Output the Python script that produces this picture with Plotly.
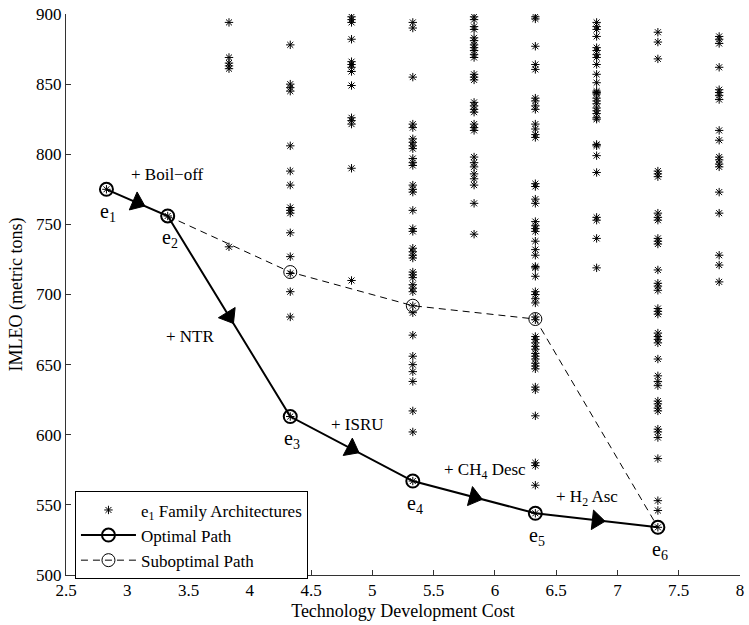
import plotly.graph_objects as go

FONT = "Liberation Serif, Times New Roman, serif"

# ---- data -------------------------------------------------------------
path_cost = [2.83, 3.33, 4.33, 5.33, 6.33, 7.33]
path_imleo = [775, 756, 613, 567, 544, 534]
path_labels = ["e<sub>1</sub>", "e<sub>2</sub>", "e<sub>3</sub>",
               "e<sub>4</sub>", "e<sub>5</sub>", "e<sub>6</sub>"]

sub_cost = [3.33, 4.33, 5.33, 6.33, 7.33]
sub_imleo = [756, 716, 692, 682.5, 534]

step_labels = ["+ Boil\u2212off", "+ NTR", "+ ISRU",
               "+ CH<sub>4</sub> Desc", "+ H<sub>2</sub> Asc"]
step_label_cost = [3.325, 3.51, 4.875, 5.92, 6.75]
step_label_imleo = [785.5, 670, 607.5, 574.5, 555]

family_cost = [2.83, 3.33, 3.83, 4.33, 4.83, 5.33, 5.83, 6.33, 6.83, 7.33, 7.83]
fam_283 = [775]
fam_333 = [756]
fam_383 = [894, 869, 865, 863, 861, 734]
fam_433 = [878, 850, 847.5, 845, 806, 788, 778, 762, 760, 758, 744, 727, 715,
           702, 684, 613]
fam_483 = [898, 896, 894, 882, 866, 864, 862, 859, 849, 826, 824, 821.5, 790,
           710]
fam_533 = [894, 890, 855, 821.5, 819, 811, 808.5, 806, 804, 797, 794, 792, 778,
           775, 773, 760, 747, 745, 733, 730.5, 728, 726, 716, 714, 712, 707,
           704.5, 702, 692, 687, 671, 656, 650, 645, 638, 617, 602, 567]
fam_583 = [898, 896, 891, 889, 883, 881, 878, 876, 874, 871, 869, 857, 855,
           853, 837, 834.5, 832, 830, 821.5, 819, 817, 798, 794, 791, 786,
           782.5, 778, 765, 743]
fam_633 = [898, 896.5, 877, 864, 860.5, 840, 838, 834.5, 832, 821.5, 818, 814,
           812, 779, 777, 768, 765, 752, 749, 747, 745, 738, 732, 728, 720,
           719, 713, 702, 700, 697, 694, 684, 682, 670, 668, 665.5, 663, 661,
           658, 656, 654, 651, 649, 647, 634, 632, 613.5, 580, 578, 564, 544]
fam_683 = [894, 891, 889, 884, 876, 874, 871, 869, 864, 857, 851, 845, 844,
           843, 840, 838, 836, 833, 831, 829, 826, 825, 807, 806, 799, 787,
           755, 753, 740, 719]
fam_733 = [887, 880, 868, 788, 786, 784, 758, 755, 753, 740, 738, 736, 717.5,
           708, 706, 703, 690, 688, 686, 672.5, 670, 668, 665.5, 654, 642, 638,
           635, 624, 622, 619, 617, 604, 602, 598, 583, 553, 546, 534]
fam_783 = [884, 882, 879, 862, 846, 844, 842, 839, 817, 810, 798, 796, 793,
           791, 773, 758, 728, 721, 709]
family_imleo = [fam_283, fam_333, fam_383, fam_433, fam_483, fam_533, fam_583,
                fam_633, fam_683, fam_733, fam_783]

x_ticks = [2.5, 3, 3.5, 4, 4.5, 5, 5.5, 6, 6.5, 7, 7.5, 8]
y_ticks = [500, 550, 600, 650, 700, 750, 800, 850, 900]

# ---- build ------------------------------------------------------------
fam_x, fam_y = [], []
for c, vals in zip(family_cost, family_imleo):
    fam_x += [c] * len(vals)
    fam_y += vals

fig = go.Figure()

fig.add_trace(go.Scatter(
    x=fam_x, y=fam_y, mode="markers",
    name="e<sub>1</sub> Family Architectures",
    marker=dict(symbol="asterisk-open", size=7, color="black",
                line=dict(width=1, color="black")),
))

fig.add_trace(go.Scatter(
    x=path_cost, y=path_imleo, mode="lines+markers", name="Optimal Path",
    line=dict(color="black", width=2),
    marker=dict(symbol="circle-open", size=13, color="black",
                line=dict(width=2, color="black")),
))

fig.add_trace(go.Scatter(
    x=sub_cost, y=sub_imleo, mode="lines+markers", name="Suboptimal Path",
    line=dict(color="black", width=1, dash="7px,5px"),
    marker=dict(symbol="circle-open", size=13, color="black",
                line=dict(width=1, color="black")),
))

# arrow heads at segment midpoints, oriented along the path
ax, ay, asz = [], [], []
for i in range(len(path_cost) - 1):
    ax.append(path_cost[i]); ay.append(path_imleo[i]); asz.append(0)
    ax.append((path_cost[i] + path_cost[i + 1]) / 2)
    ay.append((path_imleo[i] + path_imleo[i + 1]) / 2)
    asz.append(17)
ax.append(path_cost[-1]); ay.append(path_imleo[-1]); asz.append(0)

fig.add_trace(go.Scatter(
    x=ax, y=ay, mode="markers", showlegend=False, hoverinfo="skip",
    marker=dict(symbol="triangle-up", size=asz, color="black", opacity=1,
                angleref="previous", line=dict(width=1, color="black")),
))

annotations = []
for c, v, t in zip(path_cost, path_imleo, path_labels):
    annotations.append(dict(x=c, y=v, text=t, showarrow=False, yshift=-23,
                            xshift=2, font=dict(size=20, family=FONT,
                                                color="black")))
for c, v, t in zip(step_label_cost, step_label_imleo, step_labels):
    annotations.append(dict(x=c, y=v, text=t, showarrow=False,
                            font=dict(size=17, family=FONT, color="black")))

axis_common = dict(
    showgrid=False, zeroline=False, showline=True, linecolor="#333",
    linewidth=1, ticks="inside", ticklen=5, tickwidth=1, tickcolor="#333",
    mirror=False, tickfont=dict(size=17, family=FONT, color="black"),
)

fig.update_layout(
    width=749, height=625,
    margin=dict(l=66, r=5, t=11, b=50),
    paper_bgcolor="white", plot_bgcolor="white",
    font=dict(family=FONT, size=17, color="black"),
    xaxis=dict(range=[2.5, 8], tickvals=x_ticks,
               ticktext=[f"{t:g}" for t in x_ticks],
               title=dict(text="Technology Development Cost",
                          font=dict(size=18, family=FONT), standoff=4),
               **axis_common),
    yaxis=dict(range=[500, 900], tickvals=y_ticks,
               title=dict(text="IMLEO (metric tons)",
                          font=dict(size=18, family=FONT), standoff=8),
               **axis_common),
    legend=dict(x=0.0133, y=0.149, xanchor="left", yanchor="top",
                bgcolor="white", bordercolor="black", borderwidth=1,
                font=dict(size=17, family=FONT), itemwidth=55,
                tracegroupgap=2),
    annotations=annotations,
    showlegend=True,
)

fig.write_html("out.html", config={"displayModeBar": False},
               post_script="document.body.style.margin='0';"
                           "document.body.style.overflow='hidden';")
